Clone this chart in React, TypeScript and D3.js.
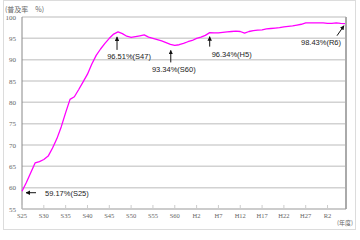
import React from "react";
import * as d3 from "d3";

const years = [
  1950, 1951, 1952, 1953, 1954, 1955, 1956, 1957, 1958, 1959,
  1960, 1961, 1962, 1963, 1964, 1965, 1966, 1967, 1968, 1969,
  1970, 1971, 1972, 1973, 1974, 1975, 1976, 1977, 1978, 1979,
  1980, 1981, 1982, 1983, 1984, 1985, 1986, 1987, 1988, 1989,
  1990, 1991, 1992, 1993, 1994, 1995, 1996, 1997, 1998, 1999,
  2000, 2001, 2002, 2003, 2004, 2005, 2006, 2007, 2008, 2009,
  2010, 2011, 2012, 2013, 2014, 2015, 2016, 2017, 2018, 2019,
  2020, 2021, 2022, 2023, 2024,
];

const rates = [
  59.17, 61.2, 63.5, 65.8, 66.1, 66.6, 67.4, 69.3, 71.5, 74.3,
  77.6, 80.7, 81.3, 83.0, 84.8, 86.6, 89.0, 91.0, 92.5, 93.8,
  95.0, 96.0, 96.51, 96.1, 95.5, 95.2, 95.4, 95.6, 95.8, 95.3,
  95.0, 94.7, 94.4, 94.0, 93.6, 93.34, 93.5, 93.8, 94.2, 94.5,
  95.0, 95.3, 95.7, 96.34, 96.3, 96.3, 96.4, 96.5, 96.6, 96.7,
  96.6, 96.2, 96.6, 96.8, 96.9, 97.0, 97.2, 97.3, 97.4, 97.5,
  97.7, 97.8, 97.9, 98.1, 98.3, 98.6, 98.6, 98.6, 98.6, 98.6,
  98.5, 98.5, 98.6, 98.5, 98.43,
];

const tickYears = [1950, 1955, 1960, 1965, 1970, 1975, 1980, 1985, 1990, 1995, 2000, 2005, 2010, 2015, 2020];
const tickLabels = ["S25", "S30", "S35", "S40", "S45", "S50", "S55", "S60", "H2", "H7", "H12", "H17", "H22", "H27", "R2"];
const yTicks = [55, 60, 65, 70, 75, 80, 85, 90, 95, 100];

const annYears = [1950, 1972, 1985, 1993, 2024];
const annLabels = ["59.17%(S25)", "96.51%(S47)", "93.34%(S60)", "96.34%(H5)", "98.43%(R6)"];

const yTitle = "(普及率\u3000%)";
const xTitle = "(年度)";

export default function App() {
  const W = 360, H = 240;
  const left = 22, right = 346, top = 17, bottom = 209;
  const x = d3.scaleLinear().domain([1950, 2024]).range([left, right - 1]);
  const y = d3.scaleLinear().domain([55, 100]).range([bottom, top]);
  const line = d3.line<number>().x((_, i) => x(years[i])).y((d) => y(d));
  const path = line(rates) || "";

  const ann = annYears.map((yr, i) => {
    const v = rates[years.indexOf(yr)];
    const px = x(yr), py = y(v);
    if (i === 0) return { t: [px + 14, py + 1.5, px + 4, py + 1.5], tx: px + 23, ty: py + 5, a: "start" };
    if (i === 1) return { t: [px - 1, py + 18, px - 1, py + 5], tx: px + 11, ty: py + 27, a: "middle" };
    if (i === 2) return { t: [px - 4, py + 17, px - 4, py + 5], tx: px - 1, ty: py + 27, a: "middle" };
    if (i === 3) return { t: [px, py + 14, px, py + 4], tx: px + 2, ty: py + 24, a: "start" };
    return { t: [px - 8, py + 12, px - 1, py + 2], tx: px - 4, ty: py + 21, a: "end" };
  });

  const tickFont = "'Liberation Serif', 'DejaVu Serif', serif";
  const annFont = "'Liberation Sans', Arial, sans-serif";

  return (
    <svg width={W} height={H} style={{ position: "absolute", left: 0, top: 0, background: "#fff" }}>
      <defs>
        <marker id="ah" viewBox="0 0 10 10" refX="9" refY="5" markerWidth="4.5" markerHeight="4.5" orient="auto">
          <path d="M0,0 L10,5 L0,10 z" fill="#111" />
        </marker>
      </defs>
      <rect x={3.5} y={0.5} width={352} height={229} fill="#fff" stroke="#dcdcdc" strokeWidth={1} />
      <text x={5} y={12} fontSize={7} fill="#666" fontFamily="'Noto Sans CJK JP', sans-serif">{yTitle}</text>
      {yTicks.map((t) => (
        <g key={t}>
          {t > 55 && (
            <line x1={left} x2={right} y1={y(t)} y2={y(t)} stroke="#d2d2d2" strokeWidth={1.5} />
          )}
          <text x={16} y={y(t) + 2.5} fontSize={7} textAnchor="end" fill="#666" fontFamily={tickFont}>{t}</text>
        </g>
      ))}
      <line x1={right} x2={right} y1={top} y2={bottom} stroke="#aaa" strokeWidth={2} />
      <line x1={left} x2={right} y1={bottom} y2={bottom} stroke="#999" strokeWidth={1} />
      <line x1={left} x2={left} y1={top} y2={bottom} stroke="#888" strokeWidth={1} />
      {tickYears.map((t, i) => (
        <g key={t}>
          <line x1={x(t)} x2={x(t)} y1={bottom - 4} y2={bottom} stroke="#ccc" strokeWidth={1} />
          <text x={x(t)} y={218} fontSize={6.5} textAnchor="middle" fill="#666" fontFamily={tickFont}>{tickLabels[i]}</text>
        </g>
      ))}
      <text x={353} y={225} fontSize={6} textAnchor="end" fill="#666" fontFamily="'Noto Sans CJK JP', sans-serif">{xTitle}</text>
      <path d={path} fill="none" stroke="#f0f" strokeWidth={1.3} strokeLinejoin="round" />
      {ann.map((a, i) => (
        <g key={i}>
          <line x1={a.t[0]} y1={a.t[1]} x2={a.t[2]} y2={a.t[3]} stroke="#111" strokeWidth={1} markerEnd="url(#ah)" />
          <text x={a.tx} y={a.ty} fontSize={7.5} textAnchor={a.a} fill="#222" fontFamily={annFont}>{annLabels[i]}</text>
        </g>
      ))}
    </svg>
  );
}
